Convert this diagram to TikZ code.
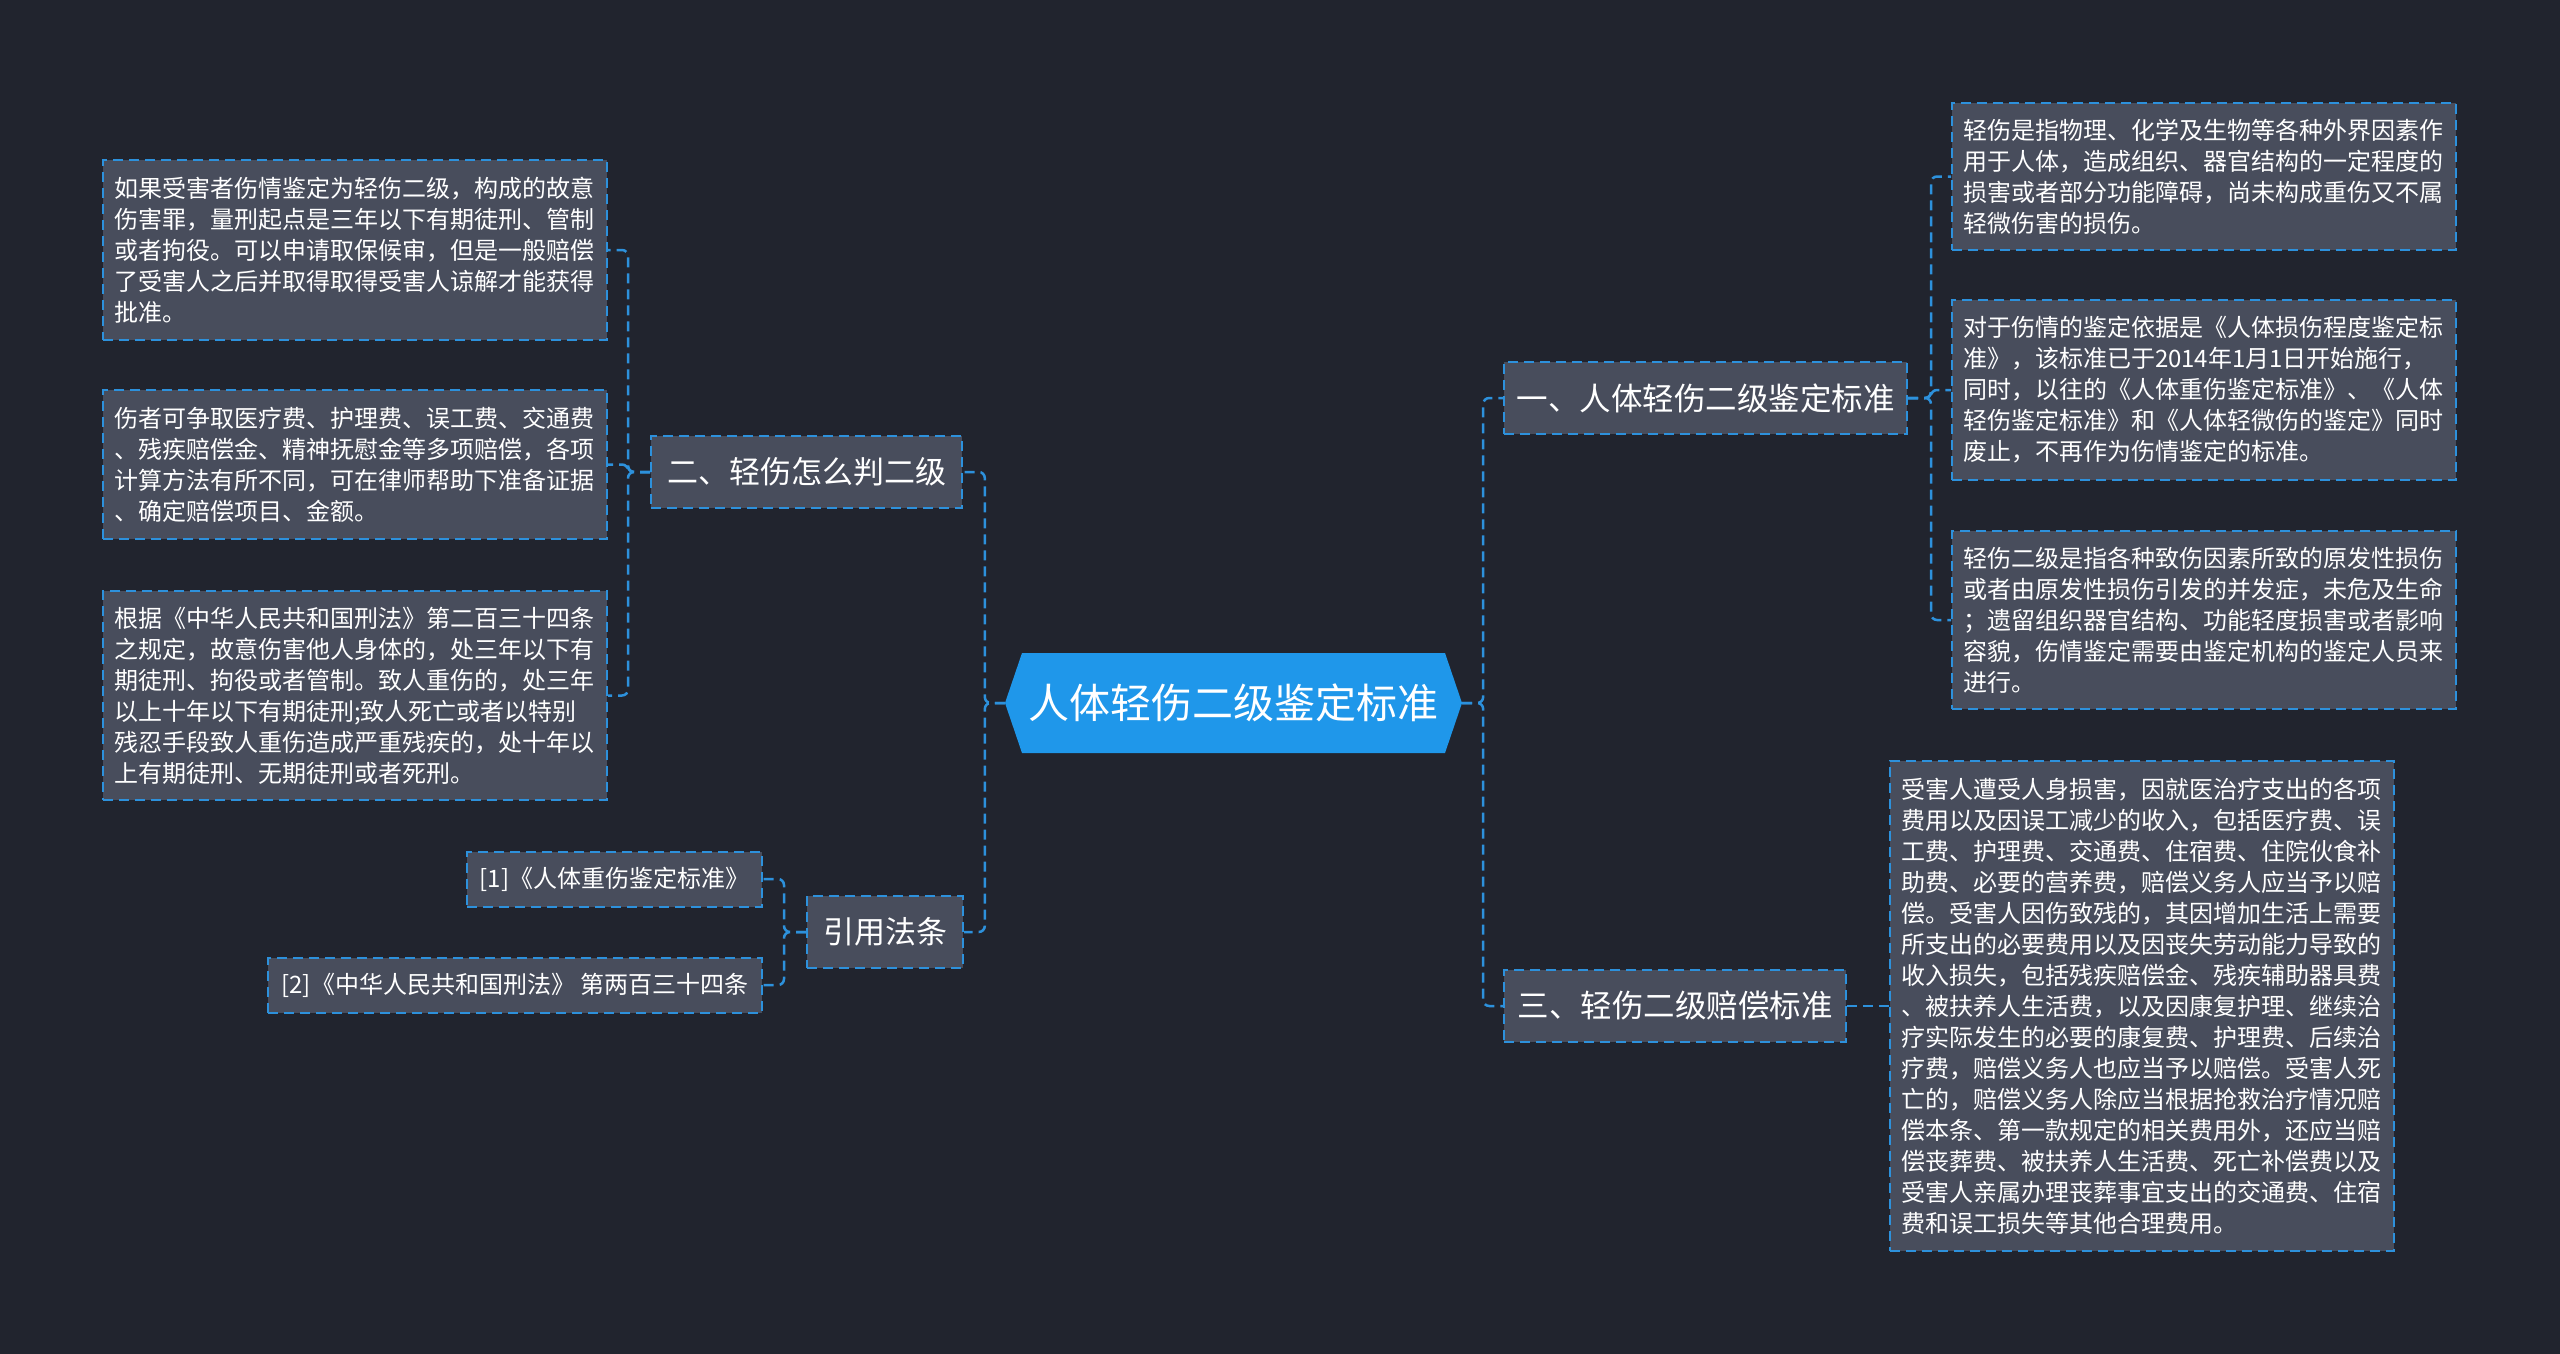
\documentclass[tikz,border=0pt]{standalone}
\usepackage{fontspec}
\setmainfont{Noto Sans CJK SC}
\definecolor{bgc}{HTML}{21242E}
\definecolor{boxc}{HTML}{484D5C}
\definecolor{linec}{HTML}{2D91DC}
\definecolor{hexc}{HTML}{1F97EA}
\tikzset{
  leaf/.style={draw=linec, line width=2pt, dash pattern=on 10pt off 6pt, fill=boxc, text=white,
    font=\fontsize{24pt}{31pt}\selectfont, align=left, text width=482pt, inner xsep=11pt, inner ysep=0pt},
  mid/.style={draw=linec, line width=2pt, dash pattern=on 10pt off 6pt, fill=boxc, text=white,
    minimum height=72pt, inner xsep=0pt, inner ysep=0pt},
  refbox/.style={draw=linec, line width=2pt, dash pattern=on 10pt off 6pt, fill=boxc, text=white,
    font=\fontsize{24pt}{30pt}\selectfont, minimum height=55pt, inner xsep=0pt, inner ysep=0pt},
  conn/.style={draw=linec, line width=2.5pt, dash pattern=on 10pt off 6pt, rounded corners=6pt},
}
\begin{document}
\begin{tikzpicture}[x=1pt,y=-1pt]
\fill[bgc] (0,0) rectangle (2560,1354);
\useasboundingbox (0,0) rectangle (2560,1354);
% central hexagon
\fill[hexc] (1005,703) -- (1022,653) -- (1445,653) -- (1462,703) -- (1445,753) -- (1022,753) -- cycle;
\node (c) [minimum width=457pt, minimum height=100pt, inner sep=0pt, text=white,
  font=\fontsize{41pt}{48pt}\selectfont] at (1233.5,703) {人体轻伤二级鉴定标准};
% right branches
\node (n1) [mid, minimum width=403pt, font=\fontsize{31.5pt}{38pt}\selectfont] at (1705.5,398) {一、人体轻伤二级鉴定标准};
\node (n3) [mid, minimum width=342pt, font=\fontsize{31.5pt}{38pt}\selectfont] at (1675,1006) {三、轻伤二级赔偿标准};
% left branches
\node (n2) [mid, minimum width=311pt, font=\fontsize{31pt}{38pt}\selectfont] at (806.5,472) {二、轻伤怎么判二级};
\node (n4) [mid, minimum width=156pt, font=\fontsize{31pt}{38pt}\selectfont] at (885,932) {引用法条};
% leaves right
\node (r1) [leaf, minimum height=147pt] at (2204,176.5) {轻伤是指物理、化学及生物等各种外界因素作\\用于人体，造成组织、器官结构的一定程度的\\损害或者部分功能障碍，尚未构成重伤又不属\\轻微伤害的损伤。};
\node (r2) [leaf, minimum height=180pt] at (2204,390) {对于伤情的鉴定依据是《人体损伤程度鉴定标\\准》，该标准已于2014年1月1日开始施行，\\同时，以往的《人体重伤鉴定标准》、《人体\\轻伤鉴定标准》和《人体轻微伤的鉴定》同时\\废止，不再作为伤情鉴定的标准。};
\node (r3) [leaf, minimum height=178pt] at (2204,620) {轻伤二级是指各种致伤因素所致的原发性损伤\\或者由原发性损伤引发的并发症，未危及生命\\；遗留组织器官结构、功能轻度损害或者影响\\容貌，伤情鉴定需要由鉴定机构的鉴定人员来\\进行。};
\node (r4) [leaf, minimum height=490pt] at (2142,1006) {受害人遭受人身损害，因就医治疗支出的各项\\费用以及因误工减少的收入，包括医疗费、误\\工费、护理费、交通费、住宿费、住院伙食补\\助费、必要的营养费，赔偿义务人应当予以赔\\偿。受害人因伤致残的，其因增加生活上需要\\所支出的必要费用以及因丧失劳动能力导致的\\收入损失，包括残疾赔偿金、残疾辅助器具费\\、被扶养人生活费，以及因康复护理、继续治\\疗实际发生的必要的康复费、护理费、后续治\\疗费，赔偿义务人也应当予以赔偿。受害人死\\亡的，赔偿义务人除应当根据抢救治疗情况赔\\偿本条、第一款规定的相关费用外，还应当赔\\偿丧葬费、被扶养人生活费、死亡补偿费以及\\受害人亲属办理丧葬事宜支出的交通费、住宿\\费和误工损失等其他合理费用。};
% leaves left
\node (l1) [leaf, minimum height=180pt] at (355,250) {如果受害者伤情鉴定为轻伤二级，构成的故意\\伤害罪，量刑起点是三年以下有期徒刑、管制\\或者拘役。可以申请取保候审，但是一般赔偿\\了受害人之后并取得取得受害人谅解才能获得\\批准。};
\node (l2) [leaf, minimum height=149pt] at (355,464.5) {伤者可争取医疗费、护理费、误工费、交通费\\、残疾赔偿金、精神抚慰金等多项赔偿，各项\\计算方法有所不同，可在律师帮助下准备证据\\、确定赔偿项目、金额。};
\node (l3) [leaf, minimum height=209pt] at (355,695.5) {根据《中华人民共和国刑法》第二百三十四条\\之规定，故意伤害他人身体的，处三年以下有\\期徒刑、拘役或者管制。致人重伤的，处三年\\以上十年以下有期徒刑;致人死亡或者以特别\\残忍手段致人重伤造成严重残疾的，处十年以\\上有期徒刑、无期徒刑或者死刑。};
\node (f1) [refbox, minimum width=295pt] at (614.5,879) {[1]《人体重伤鉴定标准》};
\node (f2) [refbox, minimum width=494pt] at (515,985) {[2]《中华人民共和国刑法》 第两百三十四条};
% connectors
\draw[conn] (c.east) -- ++(21,0) |- (n1.west);
\draw[conn] (c.east) -- ++(21,0) |- (n3.west);
\draw[conn] (c.west) -- ++(-20,0) |- (n2.east);
\draw[conn] (c.west) -- ++(-20,0) |- (n4.east);
\draw[conn] (n1.east) -- ++(23,0) |- (r1.west);
\draw[conn] (n1.east) -- ++(23,0) |- (r2.west);
\draw[conn] (n1.east) -- ++(23,0) |- (r3.west);
\draw[conn] (n3.east) -- (r4.west);
\draw[conn] (n2.west) -- ++(-22,0) |- (l1.east);
\draw[conn] (n2.west) -- ++(-22,0) |- (l2.east);
\draw[conn] (n2.west) -- ++(-22,0) |- (l3.east);
\draw[conn] (n4.west) -- ++(-22,0) |- (f1.east);
\draw[conn] (n4.west) -- ++(-22,0) |- (f2.east);
\end{tikzpicture}
\end{document}
